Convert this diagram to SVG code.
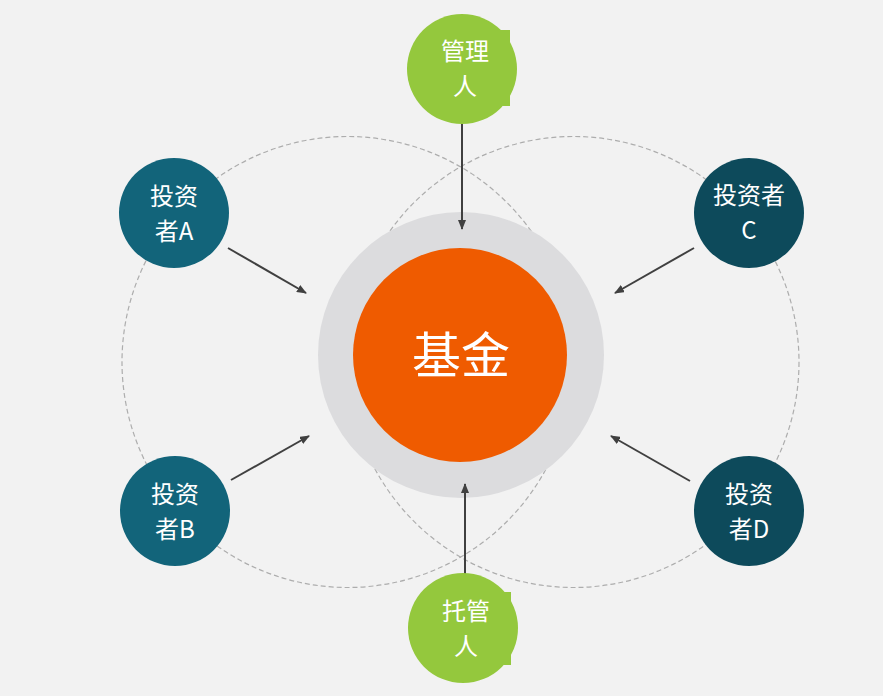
<svg xmlns="http://www.w3.org/2000/svg" width="883" height="696" viewBox="0 0 883 696">
<defs>
<marker id="ah" viewBox="0 0 10 8" refX="9" refY="4" markerWidth="10" markerHeight="8" orient="auto" markerUnits="userSpaceOnUse">
<path d="M0,0 L10,4 L0,8 Z" fill="#404040"/>
</marker>
<style>
.dash{fill:none;stroke:#adadad;stroke-width:1.2;stroke-dasharray:5 3}
.conn{stroke:#404040;stroke-width:2;fill:none;marker-end:url(#ah)}
.t{font-family:"Noto Sans CJK SC","Microsoft YaHei",sans-serif;fill:#ffffff;text-anchor:middle;font-size:24px}
.green{fill:#94c83d}
.tealA{fill:#12647a}
.tealC{fill:#0d4a5b}
</style>
</defs>
<rect width="883" height="696" fill="#f2f2f2"/>
<g id="orbits">
<circle class="dash" cx="347.5" cy="362" r="225.5"/>
<circle class="dash" cx="573.5" cy="362" r="225.5"/>
</g>
<g id="fund">
<circle cx="461" cy="355" r="143" fill="#dcdcde"/>
<circle cx="460" cy="355" r="107" fill="#ef5b00"/>
<text class="t" x="461" y="373" style="font-size:49px">基金</text>
</g>
<g id="connectors">
<line class="conn" x1="462" y1="124" x2="462" y2="229"/>
<line class="conn" x1="228" y1="248" x2="306" y2="293"/>
<line class="conn" x1="694" y1="248" x2="615" y2="293"/>
<line class="conn" x1="231" y1="480" x2="309" y2="436"/>
<line class="conn" x1="690" y1="481" x2="611" y2="436"/>
<line class="conn" x1="465" y1="589" x2="465" y2="484"/>
</g>
<g id="manager">
<circle class="green" cx="462" cy="69" r="55"/>
<rect class="green" x="470" y="30" width="40" height="76"/>
<text class="t" x="465" y="60">管理<tspan x="465" dy="35">人</tspan></text>
</g>
<g id="custodian">
<circle class="green" cx="463" cy="628" r="55"/>
<rect class="green" x="471" y="592" width="40" height="73"/>
<text class="t" x="466" y="620">托管<tspan x="466" dy="35">人</tspan></text>
</g>
<g id="investorA">
<circle class="tealA" cx="174" cy="213" r="55"/>
<text class="t" x="174" y="205">投资<tspan x="174" dy="35">者A</tspan></text>
</g>
<g id="investorB">
<circle class="tealA" cx="175" cy="511" r="55"/>
<text class="t" x="175" y="503">投资<tspan x="175" dy="35">者B</tspan></text>
</g>
<g id="investorC">
<circle class="tealC" cx="749" cy="213" r="55"/>
<text class="t" x="749" y="203.5">投资者<tspan x="749" dy="35">C</tspan></text>
</g>
<g id="investorD">
<circle class="tealC" cx="749" cy="511" r="55"/>
<text class="t" x="749" y="503">投资<tspan x="749" dy="35">者D</tspan></text>
</g>
</svg>
